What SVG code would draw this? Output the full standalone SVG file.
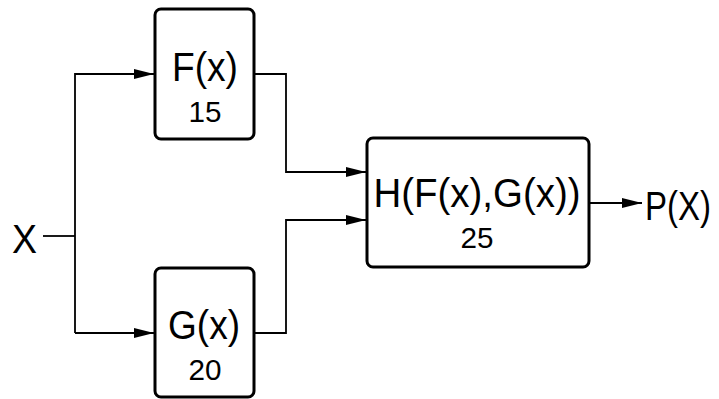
<svg xmlns="http://www.w3.org/2000/svg" width="719" height="399" viewBox="0 0 719 399">
<defs>
<style>
.box{fill:#fff;stroke:#000;stroke-width:3}
.ln{fill:none;stroke:#000;stroke-width:1.8}
.big{font-family:"Liberation Sans",Arial,sans-serif;font-size:41px;fill:#000;text-anchor:middle}
.num{font-family:"Liberation Sans",Arial,sans-serif;font-size:29px;fill:#000;text-anchor:middle}
.lbl{font-family:"Liberation Sans",Arial,sans-serif;font-size:41px;fill:#000}
</style>
<marker id="ah" markerWidth="20" markerHeight="10" refX="20" refY="5" orient="auto" markerUnits="userSpaceOnUse">
<path d="M0,0 L20,5 L0,10 Z" fill="#000"/>
</marker>
</defs>
<g id="connectors">
<path class="ln" d="M43,236 H75"/>
<path class="ln" d="M75,333 V74 H154" marker-end="url(#ah)"/>
<path class="ln" d="M75,333 H154" marker-end="url(#ah)"/>
<path class="ln" d="M254,74 H286 V172 H366" marker-end="url(#ah)"/>
<path class="ln" d="M254,333 H286 V220 H366" marker-end="url(#ah)"/>
<path class="ln" d="M589,203 H642" marker-end="url(#ah)"/>
</g>
<g id="X"><text class="lbl" x="12" y="253" textLength="25" lengthAdjust="spacingAndGlyphs">X</text></g>
<g id="F">
<rect class="box" x="155" y="9" width="99" height="130" rx="6"/>
<text class="big" x="205" y="81" textLength="66" lengthAdjust="spacingAndGlyphs">F(x)</text>
<text class="num" x="205" y="122" textLength="33" lengthAdjust="spacingAndGlyphs">15</text>
</g>
<g id="G">
<rect class="box" x="155" y="268" width="99" height="129" rx="6"/>
<text class="big" x="204" y="339" textLength="72" lengthAdjust="spacingAndGlyphs">G(x)</text>
<text class="num" x="205" y="380" textLength="33" lengthAdjust="spacingAndGlyphs">20</text>
</g>
<g id="H">
<rect class="box" x="367" y="138" width="222" height="129" rx="6"/>
<text class="big" x="477" y="207" textLength="207" lengthAdjust="spacingAndGlyphs">H(F(x),G(x))</text>
<text class="num" x="477" y="248" textLength="33" lengthAdjust="spacingAndGlyphs">25</text>
</g>
<g id="P"><text class="lbl" x="645" y="220" textLength="66" lengthAdjust="spacingAndGlyphs">P(X)</text></g>
</svg>
